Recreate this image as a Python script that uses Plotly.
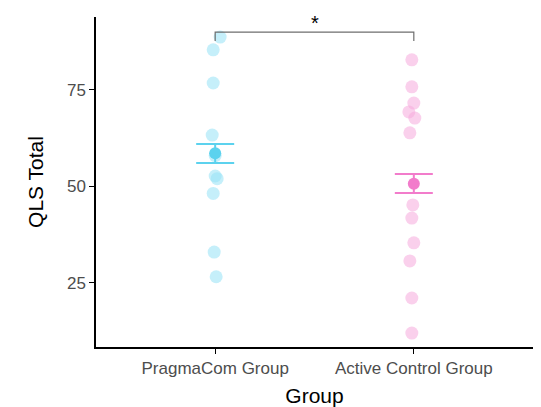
import plotly.graph_objects as go

# ---- data ----
groups = ["PragmaCom Group", "Active Control Group"]
pragma_vals = [88.7, 85.4, 76.8, 63.3, 58.0, 52.7, 52.0, 48.2, 33.0, 26.6]
pragma_jit = [0.025, -0.01, -0.01, -0.015, 0.0, 0.0, 0.01, -0.01, -0.005, 0.005]
control_vals = [82.8, 75.8, 71.6, 69.3, 67.7, 63.9, 45.2, 41.8, 35.4, 30.7, 21.1, 12.0]
control_jit = [-0.01, -0.01, 0.0, -0.025, 0.005, -0.02, -0.005, -0.01, 0.0, -0.02, -0.01, -0.01]
means = [58.6, 50.7]
sem_hi = [61.0, 53.2]
sem_lo = [56.1, 48.3]
bracket_y = 90.0
bracket_drop = 87.7
star_y = 92.4
y_ticks = [25, 50, 75]

light = ["rgba(150,225,245,0.55)", "rgba(245,170,220,0.55)"]
strong = ["#5cd2ee", "#f27ccb"]

fig = go.Figure()
for i, (vals, jit) in enumerate([(pragma_vals, pragma_jit), (control_vals, control_jit)]):
    xpos = i + 1
    fig.add_trace(go.Scatter(
        x=[xpos + j for j in jit], y=vals, mode="markers",
        marker=dict(size=13, color=light[i], line=dict(width=0)),
        showlegend=False, hoverinfo="y"))
    fig.add_trace(go.Scatter(
        x=[xpos], y=[means[i]], mode="markers",
        marker=dict(size=12, color=strong[i], line=dict(width=0)),
        error_y=dict(type="data", symmetric=False,
                     array=[sem_hi[i] - means[i]], arrayminus=[means[i] - sem_lo[i]],
                     color=strong[i], thickness=2, width=19),
        showlegend=False, hoverinfo="y"))

# significance bracket
fig.add_shape(type="path",
              path=f"M 1,{bracket_drop} L 1,{bracket_y} L 2,{bracket_y} L 2,{bracket_drop}",
              line=dict(color="#6e6e6e", width=1.2))
fig.add_annotation(x=1.5, y=star_y, text="*", showarrow=False,
                   font=dict(size=20, color="black", family="Liberation Sans"))

# page body has an 8px default margin, so the figure is sized/offset to compensate
fig.update_layout(
    width=533, height=399,
    margin=dict(l=88, r=8, t=9, b=60),
    paper_bgcolor="white", plot_bgcolor="white",
    font=dict(family="Liberation Sans, Arial, sans-serif"),
    xaxis=dict(range=[0.4, 2.6], tickvals=[1, 2], ticktext=groups, automargin=False,
               showgrid=False, zeroline=False, showline=True, linecolor="black", linewidth=1.5,
               ticks="outside", ticklen=5, tickcolor="black",
               tickfont=dict(size=17, color="#4d4d4d"),
               title=dict(text="Group", font=dict(size=21, color="black"), standoff=18)),
    yaxis=dict(range=[8.4, 93.9], tickvals=y_ticks, automargin=False,
               showgrid=False, zeroline=False, showline=True, linecolor="black", linewidth=1.5,
               ticks="outside", ticklen=5, tickcolor="black",
               tickfont=dict(size=17, color="#4d4d4d"),
               title=dict(text="QLS Total", font=dict(size=21, color="black"), standoff=18)),
)

fig.write_html("out.html")
